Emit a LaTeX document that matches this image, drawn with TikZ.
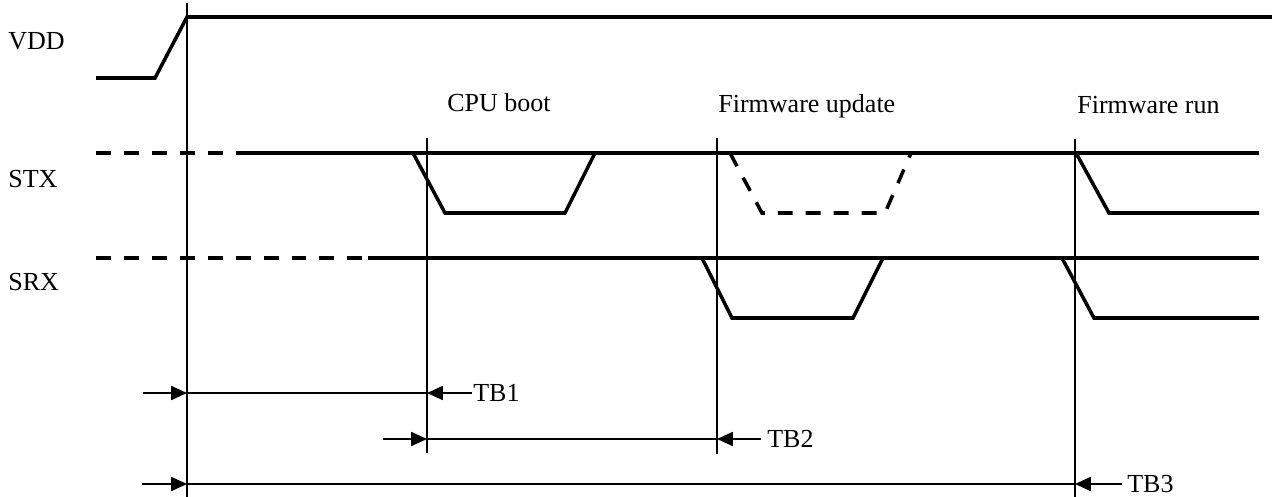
\documentclass[tikz,border=0pt]{standalone}
\usepackage{fontspec}
\setmainfont{Liberation Serif}
\usepackage{tikz}
\usetikzlibrary{arrows.meta,positioning,calc}

\begin{document}
\begin{tikzpicture}[x=0.02cm,y=-0.02cm,
  signal/.style={line width=2pt,line join=miter},
  floating/.style={signal,dash pattern=on 8.5pt off 7.4pt},
  marker/.style={line width=0.8pt},
  dimline/.style={line width=0.9pt},
  dimtip/.style={line width=0.9pt,-{Triangle[length=9pt,width=8pt]}},
  lbl/.style={font=\fontsize{14.8}{17}\selectfont,inner sep=0pt,anchor=base west}]
\useasboundingbox (0,0) rectangle (1272,497);
% signal names and phases
\node[lbl] (vdd) at (8,50) {VDD};
\node[lbl] (stx) at (8,187) {STX};
\node[lbl] (srx) at (8,290) {SRX};
\node[lbl] (boot) at (447,111) {CPU boot};
\node[lbl] (update) at (718,112) {Firmware update};
\node[lbl] (run) at (1077,113) {Firmware run};
% VDD
\draw[signal] (96,78)--(155,78)--(187,17)--(1272,17);
% STX
\draw[floating] (96,153)--(247,153);
\draw[signal] (247,153)--(1259,153);
\draw[signal] (413,153)--(445,213)--(565,213)--(595,153);
\draw[floating] (730,153)--(762,213)--(885,213)--(911,153);
\draw[signal] (1076,153)--(1109,213)--(1259,213);
% SRX
\draw[floating] (96,258)--(368,258);
\draw[signal] (368,258)--(1259,258);
\draw[signal] (702,258)--(732,318)--(853,318)--(883,258);
\draw[signal] (1062,258)--(1094,318)--(1259,318);
% time markers
\coordinate (m0top) at (187,3);   \coordinate (m0bot) at (187,497);
\coordinate (m1top) at (427,138); \coordinate (m1bot) at (427,453);
\coordinate (m2top) at (717,138); \coordinate (m2bot) at (717,454);
\coordinate (m3top) at (1075,139);\coordinate (m3bot) at (1075,497);
\foreach \m in {m0,m1,m2,m3}
  \draw[marker] (\m top)--(\m bot);
% TB1
\coordinate (tb1a) at (143,393); \coordinate (tb1b) at (187,393);
\coordinate (tb1c) at (427,393); \coordinate (tb1d) at (472,393);
\draw[dimtip] (tb1a)--(tb1b);
\draw[dimline] (tb1b)--(tb1c);
\draw[dimtip] (tb1d)--(tb1c);
\node[lbl,anchor=west] (tb1) at (473,393) {TB1};
% TB2
\coordinate (tb2a) at (383,439); \coordinate (tb2b) at (427,439);
\coordinate (tb2c) at (717,439); \coordinate (tb2d) at (761,439);
\draw[dimtip] (tb2a)--(tb2b);
\draw[dimline] (tb2b)--(tb2c);
\draw[dimtip] (tb2d)--(tb2c);
\node[lbl,anchor=west] (tb2) at (767,439) {TB2};
% TB3
\coordinate (tb3a) at (142,484); \coordinate (tb3b) at (187,484);
\coordinate (tb3c) at (1075,484); \coordinate (tb3d) at (1122,484);
\draw[dimtip] (tb3a)--(tb3b);
\draw[dimline,line width=1.1pt] (tb3b)--(tb3c);
\draw[dimtip] (tb3d)--(tb3c);
\node[lbl,anchor=west] (tb3) at (1127,484) {TB3};
\end{tikzpicture}
\end{document}
